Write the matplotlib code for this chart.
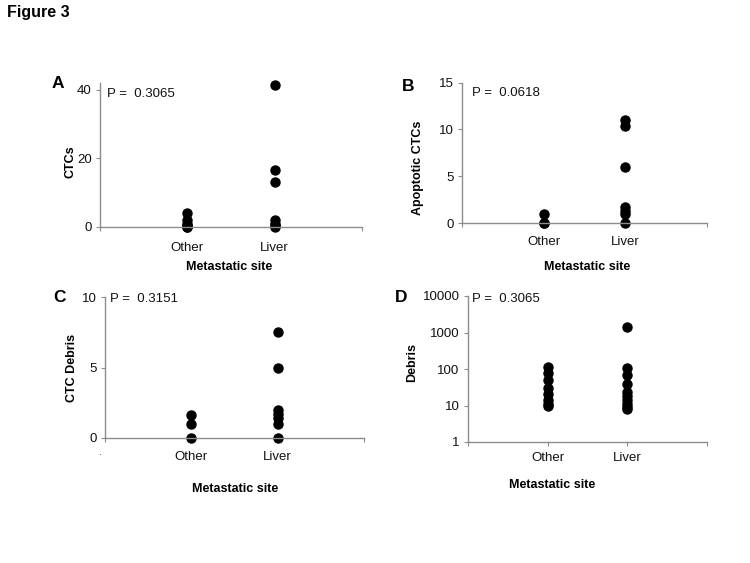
import matplotlib
matplotlib.use("Agg")
from matplotlib import pyplot as plt

plt.rcParams['font.family'] = ['Liberation Sans', 'DejaVu Sans']

W, H = 750, 563

# data
sites = ['Other', 'Liver']
ctc_other = [4, 2, 1, 0.5, 0, 0]
ctc_liver = [41.5, 16.5, 13, 2, 1, 0.5, 0]
apo_other = [1, 0, 0]
apo_liver = [11, 10.4, 6, 1.7, 1.3, 1, 0]
ctcdeb_other = [1.6, 1, 0]
ctcdeb_liver = [7.5, 5, 2, 1.7, 1.4, 1, 0]
deb_other = [115, 78, 49, 31, 21, 14.5, 11, 9.5]
deb_liver = [1400, 105, 70, 40, 23, 18, 14, 11, 9, 8]
pvals = ['0.3065', '0.0618', '0.3151', '0.3065']


def fx(x):
    return x / W


def fy(y):
    return 1 - y / H


def panel(box, other, liver, ylim, yticks, ylabel, letter, pval, pos, logy=False, xpad=7):
    x0, x1, ytop, ybot = box
    ax = fig.add_axes([fx(x0), fy(ybot), fx(x1 - x0), (ybot - ytop) / H])
    ax.plot([1] * len(other), other, 'o', color='black', ms=6.5, clip_on=False)
    ax.plot([2] * len(liver), liver, 'o', color='black', ms=6.5, clip_on=False)
    if logy:
        ax.set_yscale('log')
    ax.set_xlim(0, 3)
    ax.set_ylim(*ylim)
    ax.set_yticks(yticks)
    ax.set_yticklabels([str(t) for t in yticks])
    ax.minorticks_off()
    ax.set_xticks([0, 1, 2, 3])
    ax.set_xticklabels([''] + sites + [''])
    for s in ['top', 'right']:
        ax.spines[s].set_visible(False)
    for s in ['left', 'bottom']:
        ax.spines[s].set_color('#8c8c8c')
        ax.spines[s].set_linewidth(1)
    ax.tick_params(axis='y', length=3, color='#8c8c8c', labelsize=9.5, pad=3, labelcolor='#111')
    ax.tick_params(axis='x', length=3, color='#8c8c8c', labelsize=9.5, pad=xpad, labelcolor='#111')
    ax.patch.set_alpha(0)

    (lx, ly), (yx, yy), (xx, xy), (px, py) = pos
    fig.text(fx(lx), fy(ly), letter, fontsize=12.5, fontweight='bold', ha='left', va='center')
    fig.text(fx(yx), fy(yy), ylabel, fontsize=9, fontweight='bold', rotation=90,
             ha='center', va='center')
    fig.text(fx(xx), fy(xy), 'Metastatic site', fontsize=9, fontweight='bold',
             ha='center', va='center')
    fig.text(fx(px), fy(py), 'P =  ' + pval, fontsize=9.5, ha='left', va='center', color='#111')
    return ax


fig = plt.figure(figsize=(W / 100, H / 100), dpi=100)
fig.text(fx(7), fy(12), 'Figure 3', fontsize=11.5, fontweight='bold', ha='left', va='center')

panel((100, 362, 83, 227), ctc_other, ctc_liver, (0, 42), [0, 20, 40], 'CTCs', 'A', pvals[0],
      [(52, 84), (70, 162), (229, 267), (107, 94)], xpad=8)
panel((462, 707, 82.7, 223), apo_other, apo_liver, (0, 15), [0, 5, 10, 15], 'Apoptotic CTCs', 'B',
      pvals[1], [(402, 86), (418, 168), (587, 267), (472, 93)], xpad=6)
panel((105, 364, 297, 438), ctcdeb_other, ctcdeb_liver, (0, 10), [0, 5, 10], 'CTC Debris', 'C',
      pvals[2], [(53, 298), (72, 368), (235, 489), (110, 299)], xpad=6)
panel((468, 707, 296, 442), deb_other, deb_liver, (1, 10000), [1, 10, 100, 1000, 10000], 'Debris', 'D',
      pvals[3], [(395, 297), (412, 363), (552, 485), (472, 299)], logy=True, xpad=4)

fig.text(fx(101), fy(452), '.', fontsize=8, ha='center', va='center', color='#444')

fig.savefig('out.png', dpi=100)
